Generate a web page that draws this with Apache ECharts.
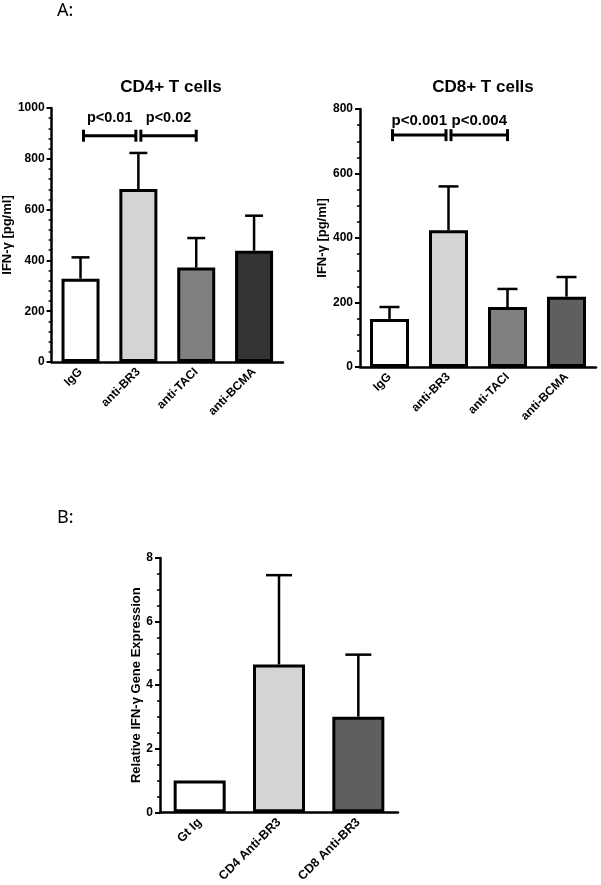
<!DOCTYPE html>
<html><head><meta charset="utf-8">
<script src="https://cdn.jsdelivr.net/npm/echarts@6/dist/echarts.min.js"></script>
<style>html,body{margin:0;padding:0;background:#fff}#c{width:601px;height:885px}</style>
</head><body><div id="c"></div>
<script>
// ---- Data ----
const cd4Categories = ['IgG', 'anti-BR3', 'anti-TACI', 'anti-BCMA'];
const cd4Means = [328, 681, 372, 438];
const cd4Errors = [84, 142, 116, 138];
const cd4SigPairs = [[0, 1], [1, 2]];
const cd4SigLabels = ['p<0.01', 'p<0.02'];
const cd4SigLevel = 891;

const cd8Categories = ['IgG', 'anti-BR3', 'anti-TACI', 'anti-BCMA'];
const cd8Means = [149, 424, 186, 218];
const cd8Errors = [37, 136, 56, 61];
const cd8SigPairs = [[0, 1], [1, 2]];
const cd8SigLabels = ['p<0.001', 'p<0.004'];
const cd8SigLevel = 719;

const geneCategories = ['Gt Ig', 'CD4 Anti-BR3', 'CD8 Anti-BR3'];
const geneMeans = [1.0, 4.65, 3.01];
const geneErrors = [0, 2.81, 1.95];

// ---- Styles ----
const FONT = '"Liberation Sans", Arial, sans-serif';
const cd4Colors = ['#ffffff', '#d4d4d4', '#808080', '#333333'];
const cd8Colors = ['#ffffff', '#d4d4d4', '#808080', '#5f5f5f'];
const geneColors = ['#ffffff', '#d4d4d4', '#5f5f5f'];

function yAx(gi, max, interval, minorSplit, name, nameGap, nameSize) {
  return {
    gridIndex: gi, type: 'value', min: 0, max: max, interval: interval,
    name: name, nameLocation: 'middle', nameGap: nameGap,
    nameTextStyle: { fontFamily: FONT, fontWeight: 'bold', fontSize: nameSize, color: '#000' },
    axisLine: { show: true, lineStyle: { color: '#000', width: 2.5 } },
    axisTick: { show: true, length: 5, lineStyle: { color: '#000', width: 2 } },
    minorTick: { show: true, splitNumber: minorSplit, length: 3, lineStyle: { color: '#000', width: 1.5 } },
    splitLine: { show: false },
    axisLabel: { fontFamily: FONT, fontWeight: 'bold', fontSize: 12, color: '#000', margin: 7,
      formatter: v => String(v) }
  };
}
function xAx(gi, cats, fontSize) {
  return {
    gridIndex: gi, type: 'category', data: cats, boundaryGap: true,
    axisLine: { lineStyle: { color: '#000', width: 2.5 } },
    axisTick: { alignWithLabel: true, length: 5, lineStyle: { color: '#000', width: 2 } },
    axisLabel: { interval: 0, rotate: 45, fontFamily: FONT, fontWeight: 'bold', fontSize: fontSize, color: '#000', margin: 8 }
  };
}
function barSeries(gi, means, colors, width) {
  return {
    type: 'bar', xAxisIndex: gi, yAxisIndex: gi, barWidth: width,
    data: means.map((v, i) => ({ value: v, itemStyle: { color: colors[i] } })),
    itemStyle: { borderColor: '#000', borderWidth: 3 },
    emphasis: { disabled: true }, z: 2
  };
}
function errRender(half) {
  return function (params, api) {
    const x = api.value(0), m = api.value(1), e = api.value(2);
    if (!e) return null;
    const p0 = api.coord([x, m]), p1 = api.coord([x, m + e]);
    const st = { stroke: '#000', lineWidth: 2.5 };
    return { type: 'group', children: [
      { type: 'line', shape: { x1: p0[0], y1: p0[1], x2: p1[0], y2: p1[1] }, style: st },
      { type: 'line', shape: { x1: p1[0] - half, y1: p1[1], x2: p1[0] + half, y2: p1[1] }, style: st }
    ] };
  };
}
function errSeries(gi, means, errs, half) {
  return {
    type: 'custom', xAxisIndex: gi, yAxisIndex: gi, z: 3,
    data: means.map((m, i) => [i, m, errs[i]]),
    renderItem: errRender(half), silent: true
  };
}
function sigRender(labels, fontSize, textGap) {
  return function (params, api) {
    const a = api.value(0), b = api.value(1), y = api.value(2);
    const pa = api.coord([a, y]), pb = api.coord([b, y]);
    const i = params.dataIndex;
    const x1 = pa[0] + (i === 0 ? 3 : 2.5);
    const x2 = pb[0] - (i === 0 ? 2.5 : 0);
    const yy = pa[1], h = 6;
    const st = { stroke: '#000', lineWidth: 3 };
    const ln = (ax, ay, bx, by) => ({ type: 'line', shape: { x1: ax, y1: ay, x2: bx, y2: by }, style: st });
    return { type: 'group', children: [
      ln(x1, yy, x2, yy), ln(x1, yy - h, x1, yy + h), ln(x2, yy - h, x2, yy + h),
      { type: 'text', style: { text: labels[i], x: (x1 + x2) / 2, y: yy - textGap, align: 'center', verticalAlign: 'bottom',
        font: 'bold ' + fontSize + 'px ' + FONT, fill: '#000' } }
    ] };
  };
}
function sigSeries(gi, pairs, labels, level, fontSize, textGap) {
  return {
    type: 'custom', xAxisIndex: gi, yAxisIndex: gi, z: 4,
    data: pairs.map(p => [p[0], p[1], level]),
    renderItem: sigRender(labels, fontSize, textGap), silent: true
  };
}

const chart = echarts.init(document.getElementById('c'), null, { renderer: 'canvas' });
chart.setOption({
  animation: false,
  backgroundColor: '#fff',
  title: [
    { text: 'CD4+ T cells', left: 166, top: 74, textAlign: 'center', textStyle: { fontFamily: FONT, fontWeight: 'bold', fontSize: 17, color: '#000' } },
    { text: 'CD8+ T cells', left: 478, top: 74, textAlign: 'center', textStyle: { fontFamily: FONT, fontWeight: 'bold', fontSize: 17, color: '#000' } }
  ],
  graphic: [
    { type: 'text', left: 57, top: 2, style: { text: 'A:', font: '18px "Noto Sans", sans-serif', fill: '#000' } },
    { type: 'text', left: 57, top: 509, style: { text: 'B:', font: '18px "Noto Sans", sans-serif', fill: '#000' } }
  ],
  grid: [
    { left: 49, top: 108, width: 234, height: 254 },
    { left: 360, top: 109, width: 236, height: 258 },
    { left: 160, top: 558, width: 238, height: 255 }
  ],
  xAxis: [xAx(0, cd4Categories, 12), xAx(1, cd8Categories, 12), xAx(2, geneCategories, 12.5)],
  yAxis: [
    yAx(0, 1000, 200, 5, 'IFN-γ [pg/ml]', 30, 13),
    yAx(1, 800, 200, 4, 'IFN-γ [pg/ml]', 30, 13),
    yAx(2, 8, 2, 4, 'Relative IFN-γ Gene Expression', 16, 13)
  ],
  series: [
    barSeries(0, cd4Means, cd4Colors, 38),
    errSeries(0, cd4Means, cd4Errors, 9),
    sigSeries(0, cd4SigPairs, cd4SigLabels, cd4SigLevel, 14.5, 10),
    barSeries(1, cd8Means, cd8Colors, 39),
    errSeries(1, cd8Means, cd8Errors, 10),
    sigSeries(1, cd8SigPairs, cd8SigLabels, cd8SigLevel, 15, 7),
    barSeries(2, geneMeans, geneColors, 52),
    errSeries(2, geneMeans, geneErrors, 13)
  ]
});
</script>
</body></html>
